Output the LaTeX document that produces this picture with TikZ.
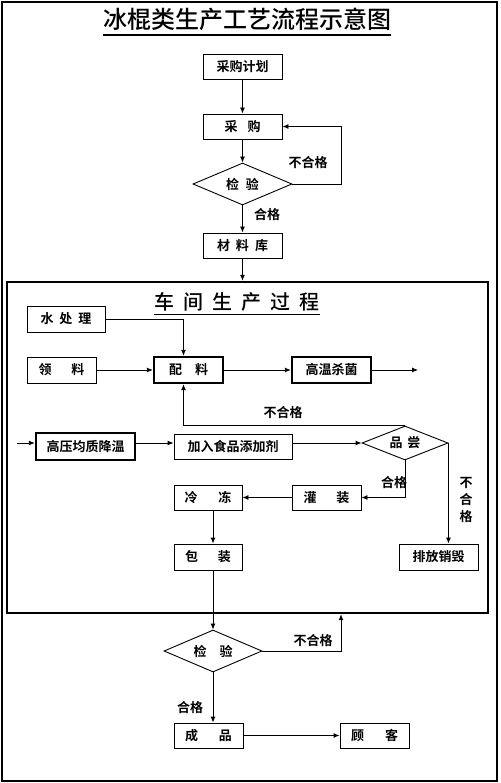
\documentclass[tikz,border=0pt]{standalone}
\usepackage{fontspec}
\setmainfont{Noto Sans CJK SC}[BoldFont={Noto Sans CJK SC Bold}]
\newfontfamily\medfont{Noto Sans CJK SC Medium}
\usetikzlibrary{shapes.geometric,arrows.meta,shadows}
\newcommand\hs[1]{\hspace{#1pt}}
\begin{document}
\begin{tikzpicture}[x=1pt,y=-1pt,
  txt/.style={font=\bfseries\fontsize{13}{13}\selectfont},
  box/.style={draw, fill=white, line width=0.9pt, inner sep=0pt, txt,
    drop shadow={shadow xshift=1.1pt, shadow yshift=-1.1pt, fill=black!80, opacity=1}},
  tbox/.style={draw, fill=white, inner sep=0pt, txt, line width=2.4pt},
  dia/.style={draw, line width=0.9pt, diamond, aspect=2.4, inner sep=0pt, txt},
  arr/.style={line width=0.9pt, -{Latex[length=6pt,width=5pt]}},
  lab/.style={txt, inner sep=0pt}]
\useasboundingbox (0,0) rectangle (500,783);
\draw[line width=1.5pt] (2,2) rectangle (497,781);
% title
\node[font=\medfont\fontsize{24}{24}\selectfont, inner sep=0pt] (title) at (247,19) {冰棍类生产工艺流程示意图};
\draw[line width=2pt] ([yshift=-4]title.south west) -- ([yshift=-4]title.south east);
% top part
\node[box, minimum width=79, minimum height=25] (plan) at (242.5,66.5) {采购计划};
\node[box, minimum width=79, minimum height=25] (buy) at (242.5,126.5) {采\hs{10}购};
\node[dia, minimum width=99, minimum height=42] (chk1) at (242.5,184) {检\hs{7}验};
\node[box, minimum width=79, minimum height=25] (stock) at (242.5,245.5) {材\hs{6}料\hs{6}库};
\coordinate (r1) at (341,184);
\draw[arr] (plan) -- (buy);
\draw[arr] (buy) -- (chk1);
\draw[arr] (chk1) -- (stock);
\draw[arr] (chk1.east) -- (r1) |- (buy.east);
\node[lab] (l1) at (308,163) {不合格};
\node[lab] (l2) at (267,215) {合格};
% workshop frame
\node[draw, line width=2.4pt, minimum width=481, minimum height=331, inner sep=0pt] (shop) at (247.5,447.5) {};
\draw[arr] (stock) -- (stock |- shop.north);
\node[font=\medfont\fontsize{20}{20}\selectfont, inner sep=0pt] (shoptitle) at (237,302) {车\hs{9}间\hs{9}生\hs{9}产\hs{9}过\hs{9}程};
\draw[line width=1pt] ([yshift=-3]shoptitle.south west) -- ([yshift=-3]shoptitle.south east);
% workshop nodes
\node[box, minimum width=78, minimum height=26] (water) at (66,319) {水\hs{6}处\hs{6}理};
\node[box, minimum width=69, minimum height=26] (ling) at (61.5,370) {领\hs{20}料};
\node[tbox, minimum width=69, minimum height=26] (pei) at (188.5,370) {配\hs{13}料};
\node[tbox, minimum width=79, minimum height=26] (gw) at (331.5,370) {高温杀菌};
\coordinate (gwend) at (418,370);
\draw[arr] (ling) -- (pei);
\draw[arr] (pei) -- (gw);
\draw[arr] (gw) -- (gwend);
\draw[arr] (water.east) -| ([xshift=-5]pei.north);
\node[tbox, minimum width=99, minimum height=27] (gy) at (85.5,446.5) {高压均质降温};
\node[box, minimum width=118, minimum height=25] (jr) at (233,446.5) {加入食品添加剂};
\node[dia, minimum width=86, minimum height=34] (taste) at (405,443) {品\hs{5}尝};
\coordinate (gystart) at (17,443);
\draw[arr] (gystart) -- (gystart -| gy.west);
\draw[arr] (gy.east |- taste.west) -- (jr.west |- taste.west);
\draw[arr] (jr.east |- taste.west) -- (taste.west);
\draw[arr] (taste.north) -| ([xshift=-5]pei.south);
\node[lab] (l3) at (283,413) {不合格};
\node[box, minimum width=69, minimum height=25] (guan) at (326.5,497.5) {灌\hs{20}装};
\node[box, minimum width=68, minimum height=25] (leng) at (208,497.5) {冷\hs{21}冻};
\node[box, minimum width=68, minimum height=26] (bao) at (208,557) {包\hs{20}装};
\node[box, minimum width=79, minimum height=26] (pf) at (438.5,557) {排放销毁};
\draw[arr] (taste.south) |- (guan.east);
\node[lab] (l4) at (394,483) {合格};
\draw[arr] (taste.east) -- (taste.east |- pf.north);
\node[lab, align=center, font=\bfseries\fontsize{13}{17}\selectfont] (l5) at (466,500) {不\\合\\格};
\draw[arr] (guan) -- (leng);
\draw[arr] ([xshift=5]leng.south) -- ([xshift=5]bao.north);
% bottom part
\node[dia, minimum width=98, minimum height=42] (chk2) at (213,651) {检\hs{13}验};
\draw[arr] ([xshift=5]bao.south) -- (chk2.north);
\draw[arr] (chk2.east) -| (r1 |- shop.south);
\node[lab] (l6) at (313,641) {不合格};
\node[box, minimum width=69, minimum height=25] (cp) at (208.5,735.5) {成\hs{21}品};
\node[box, minimum width=69, minimum height=25] (gk) at (374.5,735.5) {顾\hs{21}客};
\draw[arr] (chk2.south) -- (chk2.south |- cp.north);
\node[lab] (l7) at (190,708) {合格};
\draw[arr] (cp) -- (gk);
\end{tikzpicture}
\end{document}
